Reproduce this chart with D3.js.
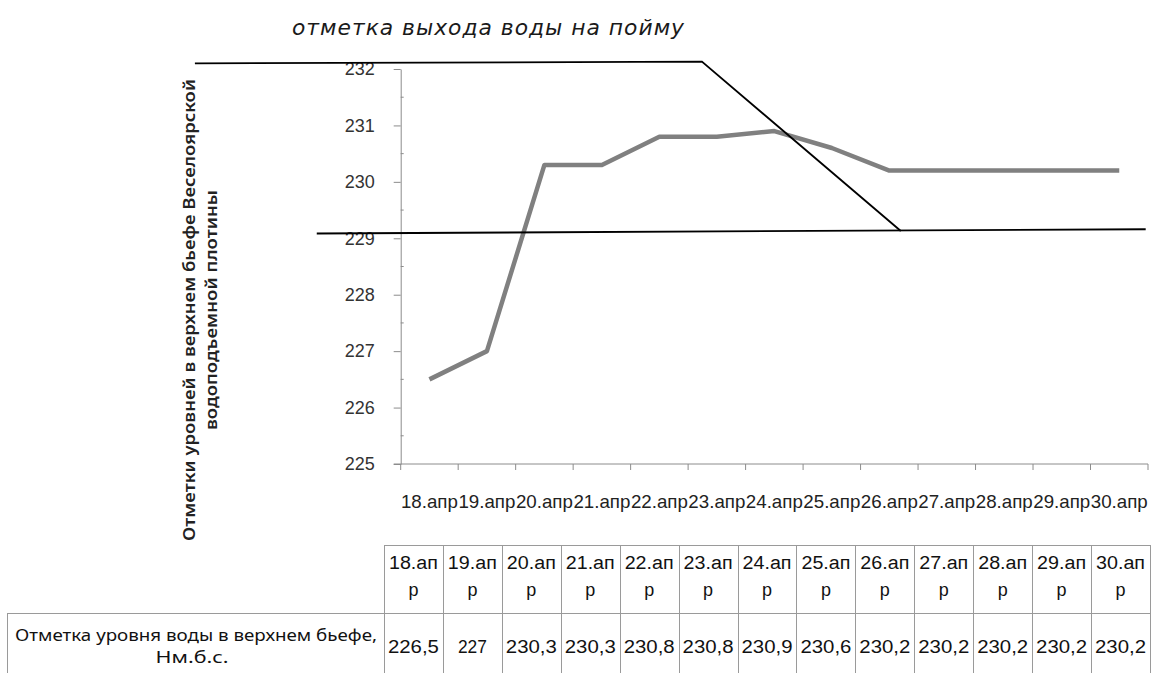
<!DOCTYPE html>
<html>
<head>
<meta charset="utf-8">
<script src="https://cdn.jsdelivr.net/npm/d3@7"></script>
<style>
  body { margin: 0; background: #fff; }
  svg { display: block; }
</style>
</head>
<body>
<div id="chart"></div>
<script>
// ── Data ──
const dates = ["18.апр", "19.апр", "20.апр", "21.апр", "22.апр", "23.апр", "24.апр",
               "25.апр", "26.апр", "27.апр", "28.апр", "29.апр", "30.апр"];
const levels = [226.5, 227, 230.3, 230.3, 230.8, 230.8, 230.9, 230.6, 230.2, 230.2, 230.2, 230.2, 230.2];
const yTicks = [225, 226, 227, 228, 229, 230, 231, 232];

// hand-drawn flood plain marker, points as [date index, level]
const floodTop = [[-4.08, 232.10], [4.74, 232.13], [8.20, 229.13]];
const floodBottom = [[-1.96, 229.085], [12.46, 229.16]];

const titleText = "отметка выхода воды на пойму";
const yTitle1 = "Отметки уровней в верхнем бьефе Веселоярской";
const yTitle2 = "водоподъемной плотины";
const rowLabel1 = "Отметка уровня воды в верхнем бьефе,";
const rowLabel2 = "Нм.б.с.";

(function () {
  const W = 1152, H = 673;
  const svg = d3.select("#chart").append("svg")
    .attr("width", W).attr("height", H);

  const FONT = "'Liberation Sans', 'Noto Sans', sans-serif";

  // ── Scales ──
  const x = d3.scaleBand().domain(dates).range([400.7, 1148]);
  const y = d3.scaleLinear().domain([225, 232]).range([464, 69]);
  const half = x.bandwidth() / 2;
  const xi = d3.scaleLinear().domain([0, dates.length - 1])
    .range([x(dates[0]) + half, x(dates[dates.length - 1]) + half]);

  // ── Title ──
  svg.append("text")
    .attr("x", 488.5).attr("y", 35)
    .attr("text-anchor", "middle")
    .attr("font-family", "'DejaVu Sans', sans-serif")
    .attr("font-style", "italic")
    .attr("font-size", 22)
    .attr("letter-spacing", 1)
    .attr("fill", "#1a1a1a")
    .attr("textLength", 393).attr("lengthAdjust", "spacingAndGlyphs")
    .text(titleText);

  // ── Y axis ──
  const yAxis = svg.append("g")
    .attr("transform", `translate(${x.range()[0]},0)`)
    .call(d3.axisLeft(y).tickValues(yTicks).tickFormat(d3.format("d"))
      .tickSize(7).tickPadding(19).tickSizeOuter(0));
  yAxis.select(".domain").attr("stroke", "#8c8c8c");
  yAxis.selectAll(".tick line").attr("stroke", "#8c8c8c");
  yAxis.selectAll(".tick text")
    .attr("font-family", FONT).attr("font-size", 18).attr("fill", "#333");

  // minor ticks at half values
  svg.append("g").selectAll("line")
    .data(d3.range(225.5, 232, 1))
    .join("line")
    .attr("x1", x.range()[0]).attr("x2", x.range()[0] + 3)
    .attr("y1", d => y(d)).attr("y2", d => y(d))
    .attr("stroke", "#8c8c8c");

  // ── X axis ──
  const xg = svg.append("g");
  xg.append("line")
    .attr("x1", x.range()[0] - 7).attr("x2", x.range()[1])
    .attr("y1", y(225)).attr("y2", y(225))
    .attr("stroke", "#8c8c8c");
  xg.selectAll("line.tick")
    .data(dates.map(d => x(d)).concat([x.range()[1]]))
    .join("line").attr("class", "tick")
    .attr("x1", d => d).attr("x2", d => d)
    .attr("y1", y(225)).attr("y2", y(225) + 6)
    .attr("stroke", "#8c8c8c");
  xg.selectAll("text")
    .data(dates)
    .join("text")
    .attr("x", d => x(d) + half).attr("y", 508)
    .attr("text-anchor", "middle")
    .attr("font-family", FONT).attr("font-size", 19).attr("fill", "#222")
    .attr("textLength", x.bandwidth() - 0.5).attr("lengthAdjust", "spacingAndGlyphs")
    .text(d => d);

  // ── Y axis title ──
  const yt = svg.append("g").attr("transform", "translate(0,310) rotate(-90)");
  yt.append("text")
    .attr("x", 0).attr("y", 195)
    .attr("text-anchor", "middle")
    .attr("font-family", "'Noto Sans', sans-serif").attr("font-weight", 600)
    .attr("font-size", 16).attr("fill", "#222")
    .attr("textLength", 462).attr("lengthAdjust", "spacingAndGlyphs")
    .text(yTitle1);
  yt.append("text")
    .attr("x", 0).attr("y", 217)
    .attr("text-anchor", "middle")
    .attr("font-family", "'Noto Sans', sans-serif").attr("font-weight", 600)
    .attr("font-size", 16).attr("fill", "#222")
    .attr("textLength", 240).attr("lengthAdjust", "spacingAndGlyphs")
    .text(yTitle2);

  // ── Data line ──
  svg.append("path")
    .datum(levels)
    .attr("fill", "none")
    .attr("stroke", "#808080")
    .attr("stroke-width", 4.5)
    .attr("stroke-linejoin", "round")
    .attr("d", d3.line().x((d, i) => xi(i)).y(d => y(d)));

  // ── Flood plain marker lines ──
  const mline = d3.line().x(d => xi(d[0])).y(d => y(d[1]));
  [floodTop, floodBottom].forEach(pts => {
    svg.append("path")
      .attr("fill", "none")
      .attr("stroke", "#000")
      .attr("stroke-width", 1.8)
      .attr("d", mline(pts));
  });

  // ── Data table ──
  const tx = d3.scaleBand().domain(dates).range([384, 1150]);
  const top = 545, mid = 613, bottom = 690;
  const tg = svg.append("g");
  const border = "#9a9a9a";

  // header row frame
  tg.append("rect")
    .attr("x", tx.range()[0] + 0.5).attr("y", top + 0.5)
    .attr("width", tx.range()[1] - tx.range()[0]).attr("height", bottom - top)
    .attr("fill", "none").attr("stroke", border);
  // left label cell
  tg.append("rect")
    .attr("x", 7.5).attr("y", mid + 0.5)
    .attr("width", tx.range()[0] - 7).attr("height", bottom - mid)
    .attr("fill", "none").attr("stroke", border);
  tg.append("line")
    .attr("x1", tx.range()[0]).attr("x2", tx.range()[1])
    .attr("y1", mid + 0.5).attr("y2", mid + 0.5)
    .attr("stroke", border);
  tg.selectAll("line.col")
    .data(dates.slice(1))
    .join("line").attr("class", "col")
    .attr("x1", d => Math.round(tx(d)) + 0.5).attr("x2", d => Math.round(tx(d)) + 0.5)
    .attr("y1", top).attr("y2", bottom)
    .attr("stroke", border);

  const tw = tx.bandwidth();
  tg.selectAll("text.h1")
    .data(dates)
    .join("text").attr("class", "h1")
    .attr("x", d => tx(d) + tw / 2).attr("y", 569)
    .attr("text-anchor", "middle")
    .attr("font-family", FONT).attr("font-size", 18).attr("fill", "#111")
    .attr("textLength", 49).attr("lengthAdjust", "spacingAndGlyphs")
    .text(d => d.slice(0, 5));
  tg.selectAll("text.h2")
    .data(dates)
    .join("text").attr("class", "h2")
    .attr("x", d => tx(d) + tw / 2).attr("y", 596)
    .attr("text-anchor", "middle")
    .attr("font-family", FONT).attr("font-size", 18).attr("fill", "#111")
    .text(d => d.slice(5));

  const fmt = v => String(v).replace(".", ",");
  tg.selectAll("text.val")
    .data(levels)
    .join("text").attr("class", "val")
    .attr("x", (d, i) => tx(dates[i]) + tw / 2).attr("y", 653)
    .attr("text-anchor", "middle")
    .attr("font-family", FONT).attr("font-size", 18).attr("fill", "#111")
    .attr("lengthAdjust", "spacingAndGlyphs")
    .attr("textLength", d => fmt(d).length > 3 ? 51 : 29)
    .text(fmt);

  tg.append("text")
    .attr("x", 196).attr("y", 641)
    .attr("text-anchor", "middle")
    .attr("font-family", "'Noto Sans', sans-serif").attr("font-size", 16).attr("fill", "#111")
    .attr("textLength", 362).attr("lengthAdjust", "spacingAndGlyphs")
    .text(rowLabel1);
  tg.append("text")
    .attr("x", 192).attr("y", 663)
    .attr("text-anchor", "middle")
    .attr("font-family", "'Noto Sans', sans-serif").attr("font-size", 16).attr("fill", "#111")
    .attr("textLength", 73).attr("lengthAdjust", "spacingAndGlyphs")
    .text(rowLabel2);
})();
</script>
</body>
</html>
